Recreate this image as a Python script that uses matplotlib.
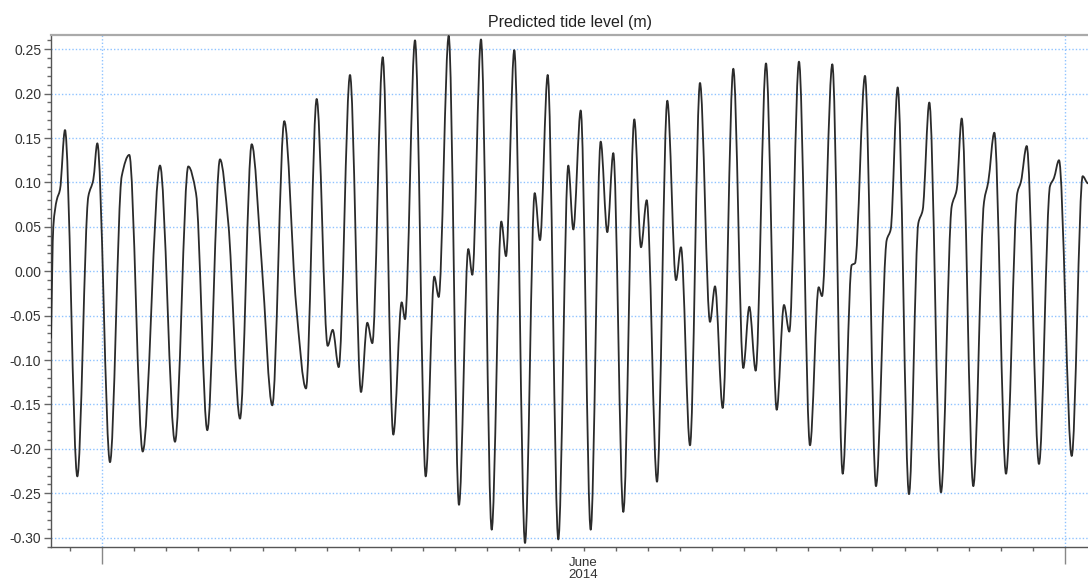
import datetime as dt

import matplotlib
matplotlib.use("Agg")
import matplotlib.pyplot as plt
import matplotlib.dates as mdates
from matplotlib.path import Path
from matplotlib.patches import PathPatch
from matplotlib.ticker import MultipleLocator, FixedLocator, NullFormatter, FormatStrFormatter
from matplotlib.transforms import blended_transform_factory

# Turning points and shoulders of the predicted tide, in days since 2014-06-01 00:00
day = [
    -1.589, -1.517, -1.411, -1.308, -1.153, -0.769, -0.427, -0.271, -0.146, 0.249,
    0.614, 0.850, 1.268, 1.807, 2.274, 2.688, 2.928, 3.280, 3.676, 3.935,
    4.299, 4.664, 4.975, 5.305, 5.679, 6.044, 6.355, 6.688, 7.031, 7.187,
    7.374, 7.726, 8.069, 8.265, 8.421, 8.745, 9.075, 9.336, 9.439, 9.751,
    10.084, 10.352, 10.489, 10.801, 11.121, 11.411, 11.536, 11.807, 12.140, 12.439,
    12.586, 12.844, 13.178, 13.480, 13.645, 13.885, 14.215, 14.526, 14.682, 14.913,
    15.224, 15.536, 15.741, 15.928, 16.240, 16.583, 16.791, 16.969, 17.290, 17.611,
    17.882, 18.037, 18.318, 18.629, 18.941, 19.097, 19.336, 19.667, 19.978, 20.165,
    20.364, 20.685, 21.019, 21.246, 21.411, 21.713, 22.056, 22.327, 22.430, 22.751,
    23.075, 23.355, 23.458, 23.769, 24.112, 24.445, 24.570, 24.788, 25.140, 25.430,
    25.567, 25.773, 26.137, 26.470, 26.626, 26.782, 27.143, 27.477, 27.611, 27.798,
    28.162, 28.514, 28.629, 28.807, 29.190, 29.533, 29.657, 29.813, 30.209, 30.551,
    30.716,
]

level = [
    -0.075, 0.050, 0.080, 0.092, 0.159, -0.231, 0.084, 0.103, 0.144, -0.215,
    0.107, 0.131, -0.203, 0.119, -0.192, 0.118, 0.088, -0.179, 0.126, 0.054,
    -0.166, 0.143, 0.009, -0.151, 0.169, -0.036, -0.132, 0.194, -0.084, -0.066,
    -0.108, 0.221, -0.136, -0.058, -0.081, 0.241, -0.184, -0.035, -0.054, 0.260,
    -0.231, -0.006, -0.029, 0.265, -0.263, 0.025, -0.004, 0.261, -0.291, 0.056,
    0.017, 0.249, -0.306, 0.088, 0.035, 0.221, -0.302, 0.119, 0.047, 0.181,
    -0.291, 0.146, 0.044, 0.133, -0.271, 0.171, 0.027, 0.080, -0.237, 0.192,
    -0.010, 0.027, -0.196, 0.212, -0.057, -0.017, -0.154, 0.228, -0.109, -0.040,
    -0.112, 0.234, -0.156, -0.038, -0.068, 0.236, -0.196, -0.018, -0.028, 0.233,
    -0.228, 0.007, 0.009, 0.220, -0.242, 0.035, 0.047, 0.207, -0.251, 0.054,
    0.069, 0.190, -0.249, 0.073, 0.092, 0.172, -0.242, 0.078, 0.101, 0.156,
    -0.228, 0.088, 0.101, 0.141, -0.217, 0.096, 0.105, 0.125, -0.208, 0.107,
    0.099,
]

y_ticks = [-0.30, -0.25, -0.20, -0.15, -0.10, -0.05, 0.00, 0.05, 0.10, 0.15, 0.20, 0.25]
month_label = "June\n2014"
title = "Predicted tide level (m)"

base = mdates.date2num(dt.datetime(2014, 6, 1))
t = [base + d for d in day]


def monotone_slopes(x, y):
    """Fritsch-Carlson tangents for a shape-preserving cubic curve."""
    n = len(x)
    h = [x[i + 1] - x[i] for i in range(n - 1)]
    delta = [(y[i + 1] - y[i]) / h[i] for i in range(n - 1)]
    m = [0.0] * n
    m[0] = delta[0]
    m[-1] = 0.0
    for k in range(1, n - 1):
        if delta[k - 1] * delta[k] <= 0:
            m[k] = 0.0
        else:
            w1 = 2 * h[k] + h[k - 1]
            w2 = h[k] + 2 * h[k - 1]
            m[k] = (w1 + w2) / (w1 / delta[k - 1] + w2 / delta[k])
    return m


def smooth_path(x, y):
    m = monotone_slopes(x, y)
    verts = [(x[0], y[0])]
    codes = [Path.MOVETO]
    for i in range(len(x) - 1):
        h = x[i + 1] - x[i]
        verts += [
            (x[i] + h / 3, y[i] + m[i] * h / 3),
            (x[i + 1] - h / 3, y[i + 1] - m[i + 1] * h / 3),
            (x[i + 1], y[i + 1]),
        ]
        codes += [Path.CURVE4] * 3
    return Path(verts, codes)


plt.rcParams["font.family"] = ["Liberation Sans", "DejaVu Sans"]

fig = plt.figure(figsize=(10.88, 5.83), dpi=100)
W, H = 1088, 583
ax = fig.add_axes([51 / W, 1 - 547 / H, (1092 - 51) / W, (547 - 35) / H])

ax.add_patch(PathPatch(smooth_path(t, level), fill=False,
                       edgecolor="#2b2b2b", linewidth=1.3, capstyle="round",
                       joinstyle="round", zorder=3))

ax.set_xlim(base + (51 - 102) / 32.1, base + (1092 - 102) / 32.1)
ax.set_ylim(-0.3105, 0.266)

# y axis
ax.yaxis.set_major_locator(FixedLocator(y_ticks))
ax.yaxis.set_major_formatter(FormatStrFormatter("%.2f"))
ax.yaxis.set_minor_locator(MultipleLocator(0.01))
ax.tick_params(axis="y", which="major", length=5, width=1, color="#666666",
               labelsize=10, labelcolor="#333333", pad=2)
ax.tick_params(axis="y", which="minor", length=3, width=1, color="#666666")

# x axis: month boundaries as major ticks, days as minor ticks
ax.xaxis.set_major_locator(mdates.MonthLocator())
ax.xaxis.set_major_formatter(NullFormatter())
ax.xaxis.set_minor_locator(mdates.DayLocator())
ax.tick_params(axis="x", which="major", length=12, width=1, color="#888888")
ax.tick_params(axis="x", which="minor", length=3, width=1, color="#666666")

trans = blended_transform_factory(ax.transData, ax.transAxes)
ax.text(base + 15, -0.020, month_label, transform=trans, ha="center", va="top",
        fontsize=9.5, color="#333333", linespacing=1.0)

# grid
ax.grid(True, which="major", axis="both", color="#8fc3ff", linestyle=(0, (1, 1.5)),
        linewidth=1.0)
ax.set_axisbelow(True)

# frame
for side in ("left", "bottom"):
    ax.spines[side].set_color("#555555")
    ax.spines[side].set_linewidth(1.0)
ax.spines["top"].set_color("#aaaaaa")
ax.spines["top"].set_linewidth(1.6)
ax.spines["right"].set_visible(False)

fig.text((51 + 1088) / 2 / W, 1 - 22 / H, title, ha="center", va="center",
         fontsize=11.5, color="#222222")

fig.savefig("out.png", dpi=100)
